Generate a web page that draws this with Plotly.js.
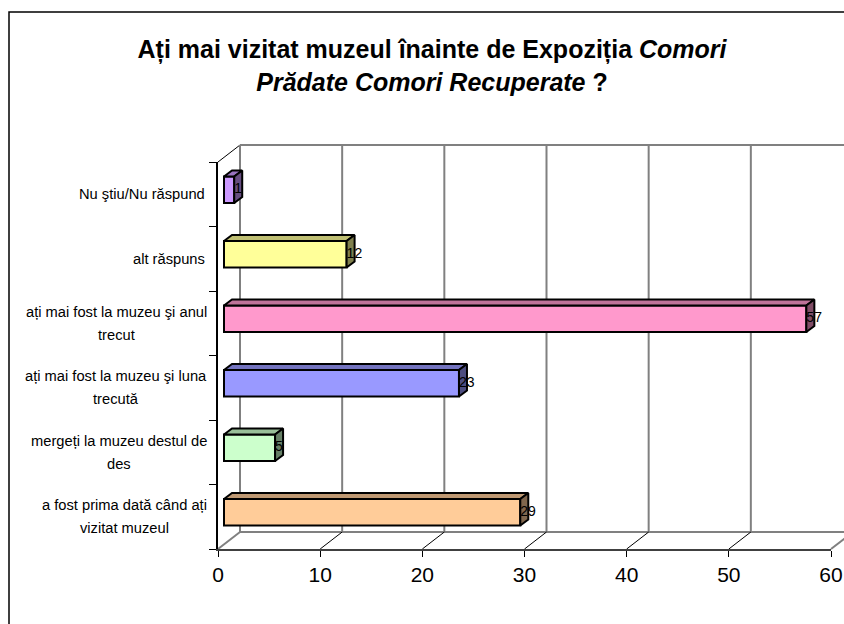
<!DOCTYPE html>
<html><head><meta charset="utf-8">
<script src="https://cdn.plot.ly/plotly-3.0.1.min.js"></script>
<style>html,body{margin:0;padding:0;background:#fff;} #chart{width:844px;height:624px;}</style>
</head><body><div id="chart"></div>
<script>
// ---- data ----
const categories = ["a fost prima dată când ați vizitat muzeul","mergeți la muzeu destul de des","ați mai fost la muzeu şi luna trecută","ați mai fost la muzeu şi anul trecut","alt răspuns","Nu ştiu/Nu răspund"];
const categoryLabels = ["a fost prima dată când ați<br>vizitat muzeul","mergeți la muzeu destul de<br>des","ați mai fost la muzeu şi luna<br>trecută","ați mai fost la muzeu şi anul<br>trecut","alt răspuns","Nu ştiu/Nu răspund"];
const values = [29, 5, 23, 57, 12, 1];
const xTicks = [0, 10, 20, 30, 40, 50, 60];
const frontColors = ["#FFCC99","#CCFFCC","#9999FF","#FF99CC","#FFFF99","#CC99FF"];
const titleText = "<b>Ați mai vizitat muzeul înainte de Expoziția <i>Comori</i></b><br><b><i>Prădate Comori Recuperate</i> ?</b>";

// ---- geometry / style ----
const W = 844, H = 624, L = 218, R = 831, T = 162, B = 549;
const plotW = R - L, plotH = B - T;
const depthX = 22, depthY = 17;
const barShiftX = 6, barShiftY = 4.5;
const barDX = 8, barDY = 6;
const barWidth = 0.41;
const labelLineGap = 23;
const FONT = "Liberation Sans, Arial, sans-serif";
const xMin = xTicks[0], xMax = xTicks[xTicks.length - 1];
const pxPerX = plotW / (xMax - xMin);
const nCat = categories.length;
const pxPerY = plotH / nCat;

function shade(hex, f) {
  const n = parseInt(hex.slice(1), 16);
  const r = Math.round(((n >> 16) & 255) * f), g = Math.round(((n >> 8) & 255) * f), b = Math.round((n & 255) * f);
  return "rgb(" + r + "," + g + "," + b + ")";
}
const px2x = px => (px - L) / plotW;
const py2y = py => (B - py) / plotH;

const idx = categories.map((c, i) => i);
const dxu = barDX / pxPerX, dyu = barDY / pxPerY;

const traces = [];
values.forEach((v, i) => {
  const y0 = i - barWidth / 2, y1 = i + barWidth / 2;
  traces.push({
    type: "scatter", mode: "lines", xaxis: "x2", yaxis: "y2", hoverinfo: "skip",
    x: [0, v, v + dxu, dxu, 0], y: [y1, y1, y1 + dyu, y1 + dyu, y1],
    fill: "toself", fillcolor: shade(frontColors[i], 0.75),
    line: {color: "#000", width: 2}, cliponaxis: false
  });
  traces.push({
    type: "scatter", mode: "lines", xaxis: "x2", yaxis: "y2", hoverinfo: "skip",
    x: [v, v + dxu, v + dxu, v, v], y: [y0, y0 + dyu, y1 + dyu, y1, y0],
    fill: "toself", fillcolor: shade(frontColors[i], 0.5),
    line: {color: "#000", width: 2}, cliponaxis: false
  });
});
traces.push({
  type: "bar", orientation: "h", xaxis: "x2", yaxis: "y2",
  x: values, y: idx, width: barWidth, base: 0,
  marker: {color: frontColors, line: {color: "#000", width: 2}},
  hoverinfo: "x", cliponaxis: false
});
traces.push({
  type: "scatter", mode: "text", xaxis: "x2", yaxis: "y2",
  x: values, y: idx, text: values.map(String), textposition: "middle right",
  textfont: {family: FONT, size: 14, color: "#000"}, hoverinfo: "skip", cliponaxis: false
});

// ---- walls (structure) ----
const shapes = [];
const line = (x0, y0, x1, y1, color, width) => shapes.push({
  type: "line", xref: "paper", yref: "paper", layer: "below",
  x0: px2x(x0), y0: py2y(y0), x1: px2x(x1), y1: py2y(y1), line: {color, width}
});
shapes.push({type: "rect", xref: "paper", yref: "paper", layer: "below",
  x0: px2x(9), y0: py2y(12), x1: px2x(W + 30), y1: py2y(H + 30), line: {color: "#000", width: 1.5}});
line(L + depthX, T - depthY, W + 40, T - depthY, "#808080", 2);
line(L + depthX, B - depthY, W + 40, B - depthY, "#808080", 2);
line(L, T, L + depthX, T - depthY, "#000", 1);
xTicks.forEach((g, k) => {
  const fx = L + (g - xMin) * pxPerX, bx = fx + depthX;
  line(bx, T - depthY, bx, B - depthY, "#808080", 2);
  const edge = (k === 0 || k === xTicks.length - 1);
  line(fx, B, bx, B - depthY, edge ? "#808080" : "#000", edge ? 2 : 1);
});

// ---- category labels (centred lines, right-aligned block) ----
const annotations = [];
categoryLabels.forEach((t, i) => {
  const lines = t.split("<br>");
  lines.forEach((ln, j) => {
    annotations.push({
      text: ln, xref: "paper", yref: "y", x: px2x(207), y: i,
      xanchor: lines.length > 1 ? "center" : "right", yanchor: "middle", showarrow: false,
      yshift: ((lines.length - 1) / 2 - j) * labelLineGap,
      font: {family: FONT, size: 14.7, color: "#000"}
    });
  });
});
// centre multi-line labels under their widest line, whose right edge sits at the block edge
function fixCentres() {
  const gd = document.getElementById("chart");
  const nodes = gd.querySelectorAll(".annotation");
  let k = 0;
  const upd = {};
  categoryLabels.forEach((t, i) => {
    const lines = t.split("<br>");
    if (lines.length > 1) {
      const widths = lines.map((_, j) => nodes[k + j].querySelector("text").getComputedTextLength());
      const maxW = Math.max(...widths);
      lines.forEach((_, j) => { upd["annotations[" + (k + j) + "].x"] = px2x(207 - maxW / 2); });
    }
    k += lines.length;
  });
  Plotly.relayout(gd, upd);
}

const layout = {
  width: W, height: H,
  margin: {l: L, r: W - R, t: T, b: H - B, pad: 0},
  paper_bgcolor: "#fff", plot_bgcolor: "rgba(0,0,0,0)",
  showlegend: false,
  title: {text: titleText, x: 432 / W, xanchor: "center", y: 1 - 58 / H, yanchor: "middle",
    font: {family: FONT, size: 25, color: "#000"}},
  xaxis: {range: [xMin, xMax], tickvals: xTicks, ticks: "outside", ticklen: 6, tickwidth: 1, tickcolor: "#000",
    showline: true, linecolor: "#404040", linewidth: 2, showgrid: false, zeroline: false,
    tickfont: {family: FONT, size: 21, color: "#000"}, fixedrange: true},
  yaxis: {range: [-0.5, nCat - 0.5], tickvals: idx.map(i => i - 0.5).concat([nCat - 0.5]),
    ticks: "outside", ticklen: 7, tickwidth: 1, tickcolor: "#000", showticklabels: false,
    showline: true, linecolor: "#000", linewidth: 2, showgrid: false, zeroline: false, fixedrange: true},
  xaxis2: {overlaying: "x", range: [xMin - barShiftX / pxPerX, xMax - barShiftX / pxPerX], visible: false, fixedrange: true},
  yaxis2: {overlaying: "y", range: [-0.5 - barShiftY / pxPerY, nCat - 0.5 - barShiftY / pxPerY], visible: false, fixedrange: true},
  shapes, annotations
};
Plotly.newPlot("chart", traces, layout, {displayModeBar: false, staticPlot: true}).then(fixCentres);
</script></body></html>
